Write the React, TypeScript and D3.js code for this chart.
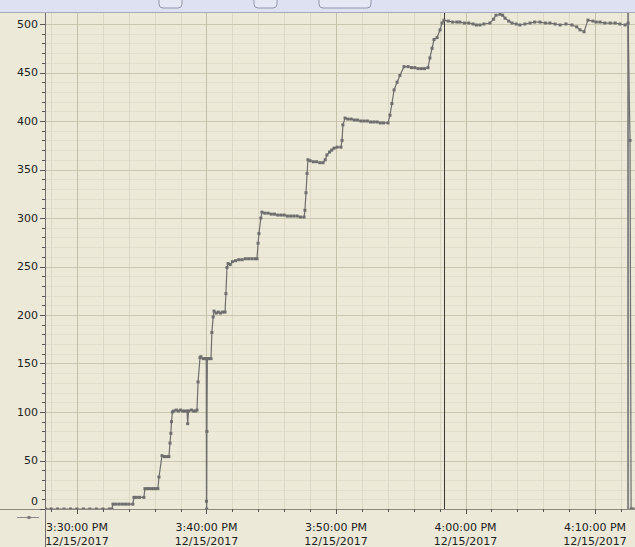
import React from 'react';
import * as d3 from 'd3';

const day = '2017-12-15';

// sampled readings: clock time + level
const times = [
  '15:27:35', '15:28:00', '15:28:30', '15:29:00', '15:29:30', '15:30:00', '15:30:30', '15:31:00', '15:31:30', '15:32:00',
  '15:32:30', '15:32:42', '15:32:47', '15:33:00', '15:33:15', '15:33:30', '15:33:45', '15:34:00', '15:34:19', '15:34:24',
  '15:34:35', '15:34:50', '15:35:10', '15:35:15', '15:35:25', '15:35:35', '15:35:45', '15:35:55', '15:36:05', '15:36:15',
  '15:36:20', '15:36:34', '15:36:45', '15:36:55', '15:37:06', '15:37:11', '15:37:15', '15:37:18', '15:37:22', '15:37:28',
  '15:37:40', '15:37:50', '15:38:00', '15:38:10', '15:38:20', '15:38:30', '15:38:33', '15:38:37', '15:38:50', '15:39:00',
  '15:39:10', '15:39:16', '15:39:21', '15:39:30', '15:39:34', '15:39:45', '15:39:55', '15:39:59', '15:40:00', '15:40:01',
  '15:40:02', '15:40:04', '15:40:10', '15:40:21', '15:40:25', '15:40:31', '15:40:35', '15:40:45', '15:40:55', '15:41:05',
  '15:41:15', '15:41:26', '15:41:30', '15:41:35', '15:41:40', '15:41:50', '15:42:00', '15:42:15', '15:42:30', '15:42:45',
  '15:43:00', '15:43:15', '15:43:30', '15:43:45', '15:43:54', '15:43:59', '15:44:03', '15:44:12', '15:44:17', '15:44:30',
  '15:44:45', '15:45:00', '15:45:15', '15:45:30', '15:45:45', '15:46:00', '15:46:15', '15:46:30', '15:46:45', '15:47:00',
  '15:47:15', '15:47:32', '15:47:36', '15:47:41', '15:47:46', '15:47:50', '15:48:00', '15:48:15', '15:48:30', '15:48:45',
  '15:49:00', '15:49:10', '15:49:18', '15:49:30', '15:49:40', '15:49:51', '15:50:05', '15:50:23', '15:50:28', '15:50:32',
  '15:50:42', '15:50:55', '15:51:10', '15:51:25', '15:51:40', '15:51:55', '15:52:10', '15:52:25', '15:52:40', '15:52:55',
  '15:53:10', '15:53:25', '15:53:40', '15:54:01', '15:54:10', '15:54:19', '15:54:29', '15:54:43', '15:54:56', '15:55:15',
  '15:55:34', '15:55:50', '15:56:05', '15:56:20', '15:56:35', '15:56:50', '15:57:06', '15:57:15', '15:57:25', '15:57:34',
  '15:57:48', '15:58:02', '15:58:11', '15:58:20', '15:58:40', '15:59:00', '15:59:20', '15:59:34', '15:59:55', '16:00:15',
  '16:00:35', '16:00:50', '16:01:07', '16:01:25', '16:01:53', '16:02:10', '16:02:21', '16:02:40', '16:02:52', '16:03:03',
  '16:03:20', '16:03:35', '16:03:55', '16:04:12', '16:04:35', '16:04:59', '16:05:20', '16:05:45', '16:06:10', '16:06:31',
  '16:06:55', '16:07:18', '16:07:45', '16:08:13', '16:08:35', '16:08:50', '16:09:09', '16:09:27', '16:09:50', '16:10:05',
  '16:10:23', '16:10:45', '16:11:10', '16:11:33', '16:11:55', '16:12:19', '16:12:33', '16:12:42', '16:12:47', '16:12:56',
];
const levels = [
  0, 0, 0, 0, 0, 0, 0, 0, 0, 0,
  0, 0, 5, 5, 5, 5, 5, 5, 5, 12,
  12, 12, 12, 21, 21, 21, 21, 21, 21, 21,
  33, 55, 54, 54, 54, 68, 78, 90, 100, 101,
  102, 101, 102, 101, 101, 101, 88, 101, 102, 101,
  101, 102, 131, 156, 157, 155, 155, 155, 8, 0,
  80, 155, 155, 155, 182, 198, 204, 202, 203, 202,
  203, 203, 222, 249, 253, 252, 255, 256, 257, 257,
  258, 258, 258, 258, 258, 274, 284, 300, 306, 305,
  305, 304, 304, 303, 303, 303, 302, 302, 302, 302,
  301, 301, 308, 326, 346, 360, 359, 358, 358, 357,
  357, 360, 365, 368, 370, 372, 373, 373, 380, 396,
  403, 402, 402, 401, 401, 400, 400, 400, 399, 399,
  399, 398, 398, 398, 406, 418, 432, 440, 447, 456,
  456, 455, 455, 454, 454, 454, 455, 465, 475, 484,
  486, 494, 501, 504, 503, 502, 502, 502, 501, 501,
  500, 499, 499, 500, 501, 505, 509, 510, 509, 506,
  503, 501, 500, 499, 500, 501, 502, 502, 501, 501,
  500, 499, 500, 499, 497, 494, 492, 504, 503, 502,
  502, 501, 501, 501, 500, 499, 501, 380, 0, 0,
];
const cursorTimes = ['15:58:20', '16:12:33'];
const viewStart = '15:27:32';
const viewEnd = '16:13:05';

const W = 635;
const H = 547;
const left = 45;
const top = 13;
const bottom = 509;

const parse = d3.timeParse('%Y-%m-%d %H:%M:%S');
const at = (t: string) => parse(`${day} ${t}`) as Date;

const App = () => {
  const x = d3.scaleTime().domain([at(viewStart), at(viewEnd)]).range([left, W]);
  const y = d3.scaleLinear().domain([0, 500]).range([bottom, 24]);

  const pts = times.map((t, i) => ({ t: at(t), v: levels[i] }));
  const line = d3.line<{ t: Date; v: number }>().x(d => x(d.t)).y(d => y(d.v));

  const majorX = x.ticks(d3.timeMinute.every(10)!);
  const minorX = x.ticks(d3.timeMinute.every(2)!);
  const majorY = y.ticks(10);
  const minorY = y.ticks(50);
  const fmtTime = d3.timeFormat('%-I:%M:%S %p');
  const fmtDate = d3.timeFormat('%m/%d/%Y');

  const font = 'DejaVu Sans, Verdana, sans-serif';
  const bg = '#ECE9D8';

  return (
    <svg width={W} height={H} style={{ position: 'absolute', left: 0, top: 0, background: bg }} fontFamily={font}>
      <defs>
        <clipPath id="plot">
          <rect x={left} y={top} width={W - left} height={bottom - top + 1} />
        </clipPath>
      </defs>
      <rect x={0} y={0} width={W} height={H} fill={bg} />

      {/* top scroll strip */}
      <rect x={0} y={0} width={W} height={12} fill="#DDE1F1" />
      <line x1={0} x2={W} y1={12.5} y2={12.5} stroke="#A4A9BC" />
      {[[159, 23], [254, 23], [319, 52]].map(([bx, bw], i) => (
        <rect key={i} x={bx} y={-5} width={bw} height={13} rx={4} fill="#E6E9F4" stroke="#9297AC" />
      ))}

      {/* grid */}
      {minorY.map(v => (
        <line key={'my' + v} x1={left} x2={W} y1={Math.round(y(v)) + 0.5} y2={Math.round(y(v)) + 0.5} stroke="#E3DFCB" />
      ))}
      {minorX.map(d => (
        <line key={'mx' + +d} x1={Math.round(x(d)) + 0.5} x2={Math.round(x(d)) + 0.5} y1={top} y2={bottom} stroke="#DCD8C3" />
      ))}
      {majorY.map(v => (
        <line key={'gy' + v} x1={left} x2={W} y1={Math.round(y(v)) + 0.5} y2={Math.round(y(v)) + 0.5} stroke="#CBC7AF" />
      ))}
      {majorX.map(d => (
        <line key={'gx' + +d} x1={Math.round(x(d)) + 0.5} x2={Math.round(x(d)) + 0.5} y1={top} y2={bottom} stroke="#C4C0A7" />
      ))}

      {/* cursors */}
      <line x1={Math.round(x(at(cursorTimes[0]))) + 0.5} x2={Math.round(x(at(cursorTimes[0]))) + 0.5} y1={top} y2={bottom} stroke="#3A3A3A" />
      <line x1={x(at(cursorTimes[1]))} x2={x(at(cursorTimes[1]))} y1={top} y2={bottom} stroke="#858585" strokeWidth={2} />

      {/* series */}
      <g clipPath="url(#plot)">
        <path d={line(pts) ?? ''} fill="none" stroke="#6E6E6E" strokeWidth={1.2} />
        {pts.map((p, i) => (
          <rect key={i} x={x(p.t) - 1.5} y={y(p.v) - 1.5} width={3} height={3} fill="#6E6E6E" />
        ))}
      </g>

      {/* axes */}
      <line x1={left + 0.5} x2={left + 0.5} y1={top} y2={H} stroke="#6F6F6F" />
      <line x1={0} x2={W} y1={bottom + 0.5} y2={bottom + 0.5} stroke="#8A8A80" />
      {minorY.map(v => (
        <line key={'ty' + v} x1={left - (v % 50 === 0 ? 5 : 3)} x2={left} y1={Math.round(y(v)) + 0.5} y2={Math.round(y(v)) + 0.5} stroke="#555" />
      ))}
      {majorY.map(v => (
        <text key={'ly' + v} x={38} y={Math.min(y(v), 501)} dy="0.35em" textAnchor="end" fontSize={11} fill="#222">
          {v}
        </text>
      ))}
      {minorX.map(d => {
        const major = d.getMinutes() % 10 === 0;
        return (
          <line key={'tx' + +d} x1={Math.round(x(d)) + 0.5} x2={Math.round(x(d)) + 0.5} y1={bottom} y2={bottom + (major ? 5 : 3)} stroke="#555" />
        );
      })}
      {majorX.map(d => (
        <g key={'lx' + +d} fontSize={11} fill="#222" textAnchor="middle">
          <text x={x(d)} y={531}>{fmtTime(d)}</text>
          <text x={x(d)} y={545}>{fmtDate(d)}</text>
        </g>
      ))}

      {/* legend swatch */}
      <line x1={17} x2={39} y1={517.5} y2={517.5} stroke="#8A8A8A" />
      <rect x={27.5} y={516} width={3} height={3} fill="#7A7A7A" />
    </svg>
  );
};

export default App;
